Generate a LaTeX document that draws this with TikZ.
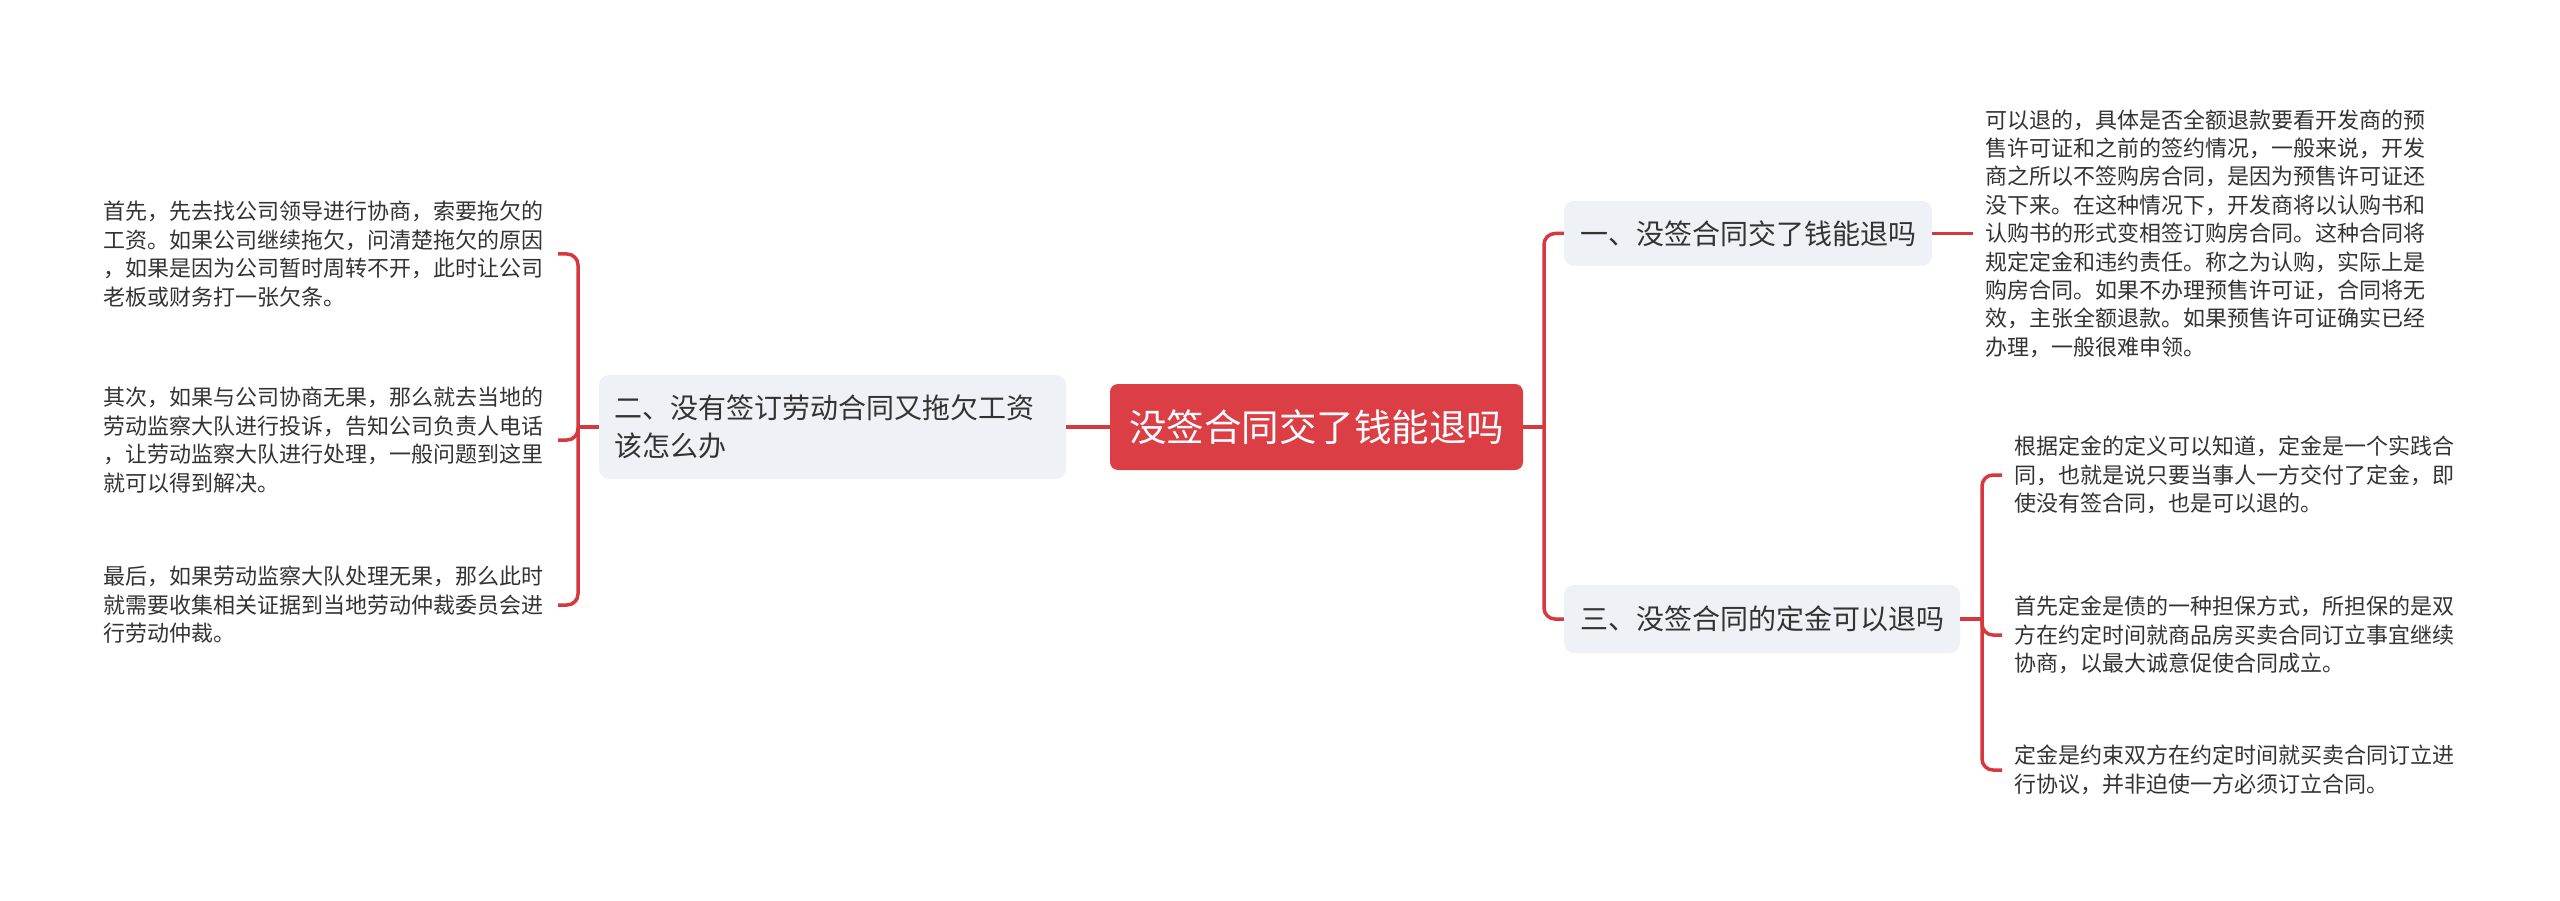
\documentclass[tikz,border=0pt]{standalone}
\usepackage{fontspec}
\setmainfont{Noto Sans CJK SC}
\definecolor{topicred}{HTML}{DC3E45}
\definecolor{linkred}{HTML}{D5383F}
\definecolor{boxgray}{HTML}{EEF1F5}
\definecolor{inkgray}{HTML}{333333}

\begin{document}
\begin{tikzpicture}[x=1pt, y=-1pt,
        rootnode/.style={rectangle, rounded corners=8pt, fill=topicred, text=white, minimum width=413pt, minimum height=86pt, font=\fontsize{37.5}{45}\selectfont},
        branch/.style={rectangle, rounded corners=10pt, fill=boxgray, text=inkgray, font=\fontsize{28}{38}\selectfont},
        leaf/.style={text=inkgray, text width=442pt, inner xsep=12pt, inner ysep=0pt, align=left, font=\fontsize{22}{28.5}\selectfont},
        link/.style={draw=linkred, line width=3.5pt, rounded corners=11pt}
    ]
    \useasboundingbox (0,0) rectangle (2560,901);

    % Define root and branches
    \node[rootnode] (root) at (1316.5, 427) {没签合同交了钱能退吗};
    \node[branch, minimum width=368pt, minimum height=65pt] (b1) at (1748, 233.5) {一、没签合同交了钱能退吗};
    \node[branch, text width=437pt, inner xsep=15pt, minimum height=104pt, align=left] (b2) at (832.5, 427) {二、没有签订劳动合同又拖欠工资\\该怎么办};
    \node[branch, minimum width=396pt, minimum height=68pt] (b3) at (1762, 619) {三、没签合同的定金可以退吗};

    % Define left leaves
    \node[leaf, anchor=east] (l1) at (558, 254) {首先，先去找公司领导进行协商，索要拖欠的\\工资。如果公司继续拖欠，问清楚拖欠的原因\\，如果是因为公司暂时周转不开，此时让公司\\老板或财务打一张欠条。};
    \node[leaf, anchor=east] (l2) at (558, 440) {其次，如果与公司协商无果，那么就去当地的\\劳动监察大队进行投诉，告知公司负责人电话\\，让劳动监察大队进行处理，一般问题到这里\\就可以得到解决。};
    \node[leaf, anchor=east] (l3) at (558, 605) {最后，如果劳动监察大队处理无果，那么此时\\就需要收集相关证据到当地劳动仲裁委员会进\\行劳动仲裁。};

    % Define right leaves
    \node[leaf, anchor=west, font=\fontsize{22}{28.4}\selectfont] (r1) at (1973, 233.5) {可以退的，具体是否全额退款要看开发商的预\\售许可证和之前的签约情况，一般来说，开发\\商之所以不签购房合同，是因为预售许可证还\\没下来。在这种情况下，开发商将以认购书和\\认购书的形式变相签订购房合同。这种合同将\\规定定金和违约责任。称之为认购，实际上是\\购房合同。如果不办理预售许可证，合同将无\\效，主张全额退款。如果预售许可证确实已经\\办理，一般很难申领。};
    \node[leaf, anchor=west] (r2) at (2002, 475) {根据定金的定义可以知道，定金是一个实践合\\同，也就是说只要当事人一方交付了定金，即\\使没有签合同，也是可以退的。};
    \node[leaf, anchor=west] (r3) at (2002, 635) {首先定金是债的一种担保方式，所担保的是双\\方在约定时间就商品房买卖合同订立事宜继续\\协商，以最大诚意促使合同成立。};
    \node[leaf, anchor=west] (r4) at (2002, 770) {定金是约束双方在约定时间就买卖合同订立进\\行协议，并非迫使一方必须订立合同。};

    % Joints
    \coordinate (rjoin) at (1544, 427);
    \coordinate (ljoin) at (578, 427);
    \coordinate (bjoin) at (1982, 619);

    % Root to branches
    \draw[link] (root.east) -- (rjoin);
    \draw[link] (rjoin) |- (b1.west);
    \draw[link] (rjoin) |- (b3.west);
    \draw[link] (root.west) -- (b2.east);

    % Branches to leaves
    \draw[link] (b2.west) -- (ljoin);
    \draw[link] (ljoin) |- (l1.east);
    \draw[link] (ljoin) |- (l2.east);
    \draw[link] (ljoin) |- (l3.east);
    \draw[link] (b1.east) -- (r1.west);
    \draw[link] (b3.east) -- (bjoin);
    \draw[link] (bjoin) |- (r2.west);
    \draw[link] (bjoin) |- (r3.west);
    \draw[link] (bjoin) |- (r4.west);

\end{tikzpicture}
\end{document}
